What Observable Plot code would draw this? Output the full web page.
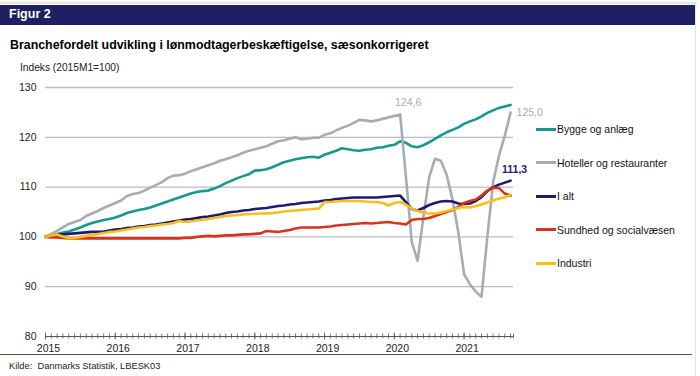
<!DOCTYPE html>
<html><head><meta charset="utf-8">
<script src="https://cdn.jsdelivr.net/npm/d3@7"></script>
<script src="https://cdn.jsdelivr.net/npm/@observablehq/plot@0.6"></script>
<style>
body{margin:0;background:#fff;font-family:"Liberation Sans",Arial,sans-serif;}
#page{position:relative;width:700px;height:376px;overflow:hidden;background:#fff;}
.abs{position:absolute;white-space:nowrap;}
#bar{left:0;top:5px;width:696px;height:20px;background:#1e2063;}
#fig{left:9px;top:7px;color:#fff;font-weight:bold;font-size:12.5px;}
#title{left:10px;top:38px;font-weight:bold;font-size:12.4px;color:#000;}
#unit{left:20px;top:62px;font-size:10.2px;color:#222;}
#chart{left:0;top:76px;}
#bottomline{left:0;top:354px;width:692px;height:1px;background:#555;}
#src{left:9px;top:361px;font-size:9.3px;color:#222;}
#rborder{left:695px;top:4px;width:1px;height:372px;background:#e4e4e8;}
#topline{left:0;top:2px;width:697px;height:2px;background:#e4e4e8;}
.leg{position:absolute;left:536px;font-size:10.5px;color:#111;white-space:nowrap;}
.leg span{display:inline-block;width:20px;height:3px;vertical-align:middle;margin-right:1px;position:relative;top:-1px;}
</style></head>
<body><div id="page">
<div class="abs" id="topline"></div>
<div class="abs" id="bar"></div>
<div class="abs" id="fig">Figur 2</div>
<div class="abs" id="title">Branchefordelt udvikling i lønmodtagerbeskæftigelse, sæsonkorrigeret</div>
<div class="abs" id="unit">Indeks (2015M1=100)</div>
<div class="abs" id="chart"></div>
<div class="abs" id="bottomline"></div>
<div class="abs" id="src">Kilde:&nbsp; Danmarks Statistik, LBESK03</div>
<div class="abs" id="rborder"></div>
<div id="legend"></div>
</div>
<script>
// Series names and colours (legend order)
const seriesNames = ["Bygge og anlæg", "Hoteller og restauranter", "I alt", "Sundhed og socialvæsen", "Industri"];
const seriesColors = ["#15998c", "#a7acb3", "#1d1b6e", "#d6341c", "#fbbd18"];

// Monthly index values, 2015M1 .. 2021M9 (81 months)
const bygge = [100,100.3,100.6,100.9,101.1,101.5,101.9,102.4,102.8,103.1,103.4,103.6,103.9,104.3,104.8,105.1,105.4,105.6,105.9,106.3,106.7,107.1,107.5,107.9,108.3,108.7,109,109.2,109.3,109.7,110.2,110.8,111.3,111.8,112.2,112.6,113.3,113.4,113.6,114,114.5,115,115.3,115.6,115.8,116,116.1,115.9,116.5,116.9,117.3,117.8,117.6,117.4,117.3,117.5,117.6,117.9,118,118.3,118.5,119.2,118.9,118.2,118,118.4,119,119.7,120.4,121,121.5,122,122.7,123.2,123.6,124.2,124.9,125.4,125.9,126.2,126.5];
const hoteller = [100,100.6,101.2,101.9,102.6,103,103.4,104.2,104.7,105.2,105.8,106.3,106.8,107.3,108.2,108.6,108.8,109.3,109.9,110.4,111,111.8,112.3,112.4,112.7,113.2,113.6,114,114.4,114.8,115.3,115.6,116,116.4,116.9,117.3,117.6,117.9,118.2,118.7,119.2,119.4,119.7,120,119.6,119.7,119.9,119.9,120.5,120.8,121.4,121.9,122.3,122.9,123.5,123.4,123.2,123.4,123.7,124,124.3,124.6,112,99,95.2,104,112,115.7,115.3,112.5,107.5,101,92.5,90.5,89,88,100,111,116.3,120.3,125.0];
const ialt = [100,100.2,100.4,100.5,100.6,100.7,100.8,100.9,101,101,101.1,101.3,101.5,101.6,101.8,101.9,102.1,102.2,102.4,102.5,102.7,102.9,103.1,103.3,103.5,103.6,103.8,104,104.1,104.3,104.5,104.8,105,105.1,105.3,105.4,105.6,105.7,105.8,106,106.2,106.3,106.5,106.6,106.8,106.9,107,107.1,107.3,107.4,107.6,107.7,107.8,107.9,107.9,107.9,107.9,107.9,108,108.1,108.2,108.3,107,105.6,105.3,105.8,106.4,106.8,107.1,107.2,107.1,106.7,106.6,106.7,107.2,108,109.2,110,110.5,110.9,111.3];
const sundhed = [100,99.9,99.9,99.8,99.7,99.7,99.7,99.7,99.7,99.7,99.7,99.7,99.7,99.7,99.7,99.7,99.7,99.7,99.7,99.7,99.7,99.7,99.7,99.7,99.8,99.8,100,100.1,100.2,100.1,100.2,100.3,100.3,100.4,100.5,100.5,100.6,100.7,101.2,101.1,101,101.2,101.4,101.7,101.9,101.9,101.9,101.9,102,102.1,102.3,102.4,102.5,102.6,102.7,102.8,102.7,102.8,102.9,103,102.8,102.7,102.5,103.4,103.6,103.6,103.8,104.2,104.6,105,105.4,106,106.8,107.2,107.5,108.3,109.3,109.9,109.8,108.7,108.3];
const industri = [100,100.3,100.5,100.1,99.7,99.8,100,100.2,100.4,100.6,100.8,101,101.1,101.3,101.5,101.7,101.9,102,102.2,102.3,102.5,102.6,102.8,103.2,103,103.1,103.3,103.4,103.6,103.8,104,104.2,104.3,104.4,104.5,104.6,104.6,104.7,104.7,104.8,104.9,105.1,105.2,105.3,105.4,105.5,105.6,105.7,107,107,107.1,107.2,107.2,107.2,107.2,107.1,107,107,106.8,106.3,106.8,107,106.5,105.7,105.2,104.9,104.7,104.7,104.9,105.2,105.5,105.8,106,105.9,106.2,106.5,106.9,107.3,107.7,107.9,108.5];

const yearLabels = ["2015","2016","2017","2018","2019","2020","2021"];
const yTicks = [80, 90, 100, 110, 120, 130];

// Labelled values: [series index, month index]
const labelPoints = [[1, 61], [1, 80], [2, 80]];

const allSeries = [bygge, hoteller, ialt, sundhed, industri];
const rows = [];
allSeries.forEach((arr, s) => arr.forEach((v, t) => rows.push({s, t, v})));
const months = d3.range(0, allSeries[0].length);
const yearTicks = yearLabels.map((_, i) => i * 12);
const fmt = v => d3.format(".1f")(v).replace(".", ",");

const labels = labelPoints.map(([s, t]) => ({s, t, v: allSeries[s][t], txt: fmt(allSeries[s][t])}));

const plot = Plot.plot({
  width: 700, height: 285,
  marginLeft: 45, marginRight: 187, marginTop: 11, marginBottom: 25,
  style: {fontFamily: "Liberation Sans, Arial, sans-serif", fontSize: "10.5px", background: "transparent"},
  x: {domain: [0, 80.5], axis: null},
  y: {domain: [80, 130], axis: null},
  marks: [
    Plot.ruleY(yTicks.filter(d => d > 80), {stroke: "#b9bdc1", strokeWidth: 1.3}),
    Plot.axisY({ticks: yTicks, tickSize: 0, tickPadding: 9, tickFormat: d => String(d), fill: "#222", fontSize: 10.5, label: null}),
    Plot.ruleY([80], {stroke: "#555", strokeWidth: 1}),
    Plot.axisX({ticks: months.concat([80.5]), tickSize: 5, dy: -2.5, tickFormat: () => "", stroke: "#555", strokeWidth: 0.8, label: null}),
    Plot.axisX({ticks: yearTicks, tickSize: 0, dy: 8.5, dx: 3, tickPadding: 0, tickFormat: d => yearLabels[d / 12], fill: "#222", fontSize: 10.5, label: null}),
    Plot.axisX({ticks: yearTicks, tickSize: 7, dy: -3.5, tickFormat: () => "", stroke: "#555", strokeWidth: 0.8, label: null}),
    ...allSeries.map((arr, s) => Plot.line(rows.filter(r => r.s === s), {x: "t", y: "v", stroke: seriesColors[s], strokeWidth: 2.6, curve: "linear"})),
    Plot.text(labels.filter(d => d.s === 1 && d.t === 61), {x: "t", y: "v", text: "txt", fill: "#a7acb3", dx: 8, dy: -12, fontSize: 10.5}),
    Plot.text(labels.filter(d => d.s === 1 && d.t === 80), {x: "t", y: "v", text: "txt", fill: "#a7acb3", dx: 6, dy: 0, textAnchor: "start", fontSize: 10.5}),
    Plot.text(labels.filter(d => d.s === 2), {x: "t", y: "v", text: "txt", fill: "#1d1b6e", dx: 4, dy: -11, fontWeight: "bold", fontSize: 10.5})
  ]
});
document.getElementById("chart").appendChild(plot);

// Legend
const legTops = [130, 163.5, 197, 230.5, 264];
const legend = document.getElementById("legend");
seriesNames.forEach((n, i) => {
  const d = document.createElement("div");
  d.className = "leg";
  d.style.top = (legTops[i] - 7) + "px";
  d.innerHTML = `<span style="background:${seriesColors[i]}"></span>${n}`;
  legend.appendChild(d);
});
</script>
</body></html>
